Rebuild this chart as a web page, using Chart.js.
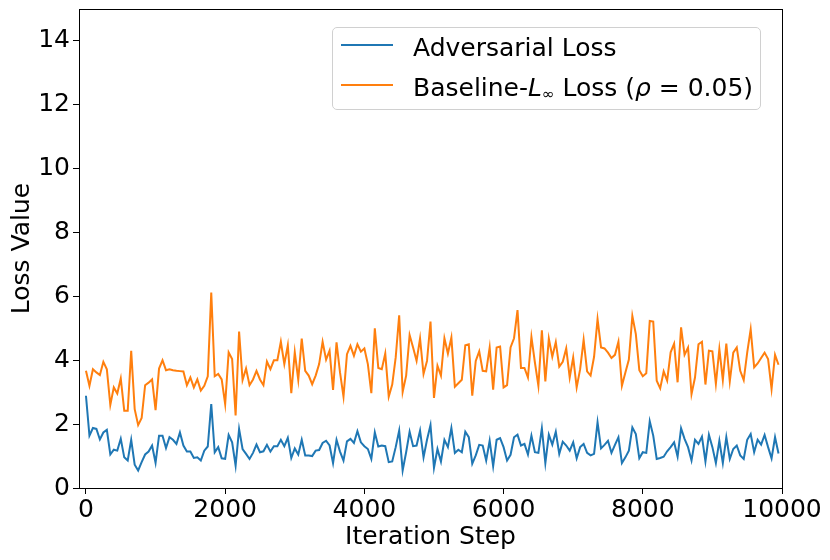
<!DOCTYPE html>
<html>
<head>
<meta charset="utf-8">
<script src="https://cdn.jsdelivr.net/npm/chart.js@4.4.1/dist/chart.umd.min.js"></script>
<style>
  html, body { margin: 0; padding: 0; background: #fff; }
  #wrap { position: relative; width: 830px; height: 560px; font-family: "DejaVu Sans", sans-serif; }
  #legend {
    position: absolute; left: 332px; top: 27px; width: 427px; height: 81px;
    border: 1px solid #d0d0d0; border-radius: 5px; background: rgba(255,255,255,0.8);
  }
  .row { position: absolute; left: 0; font-size: 25px; line-height: 30px; color: #000; white-space: nowrap; }
  .swatch { position: absolute; left: 8px; width: 52px; height: 2px; }
  .label { position: absolute; left: 80px; }
  .label sub { font-size: 15px; line-height: 0; vertical-align: -3px; }
</style>
</head>
<body>
<div id="wrap">
  <canvas id="lossChart" width="830" height="560"></canvas>
  <div id="legend">
    <div class="swatch" style="top:16px;background:#1f77b4"></div>
    <div class="row label" style="top:5px">Adversarial Loss</div>
    <div class="swatch" style="top:56px;background:#ff7f0e"></div>
    <div class="row label" style="top:45px">Baseline-<i>L</i><sub>∞</sub> Loss (<i>ρ</i> = 0.05)</div>
  </div>
</div>
<script>
// Values, one point every 50 iterations (0 .. 9950)
const STEP = 50;

const adversarialLoss = [
  2.89,1.64,1.88,1.85,1.52,1.74,1.82,1.05,1.2,1.17, 1.54,0.96,0.86,1.51,0.73,0.55,0.81,1.05,1.14,1.33,
  0.79,1.64,1.64,1.25,1.59,1.51,1.38,1.74,1.33,1.14, 1.14,0.94,0.96,0.86,
  1.17,1.3,2.63,1.12,1.28,0.93,0.91,1.66,1.43,0.7, 1.85,1.22,1.07,0.91,1.1,1.36,1.12,1.15,1.35,1.14,
  1.31,1.31,1.51,1.31,1.57,0.94,1.24,1.05,1.51,1.02, 1.02,1.0,
  1.17,1.19,1.41,1.48,1.33,0.78,1.51,1.14,0.86,1.46, 1.54,1.41,1.78,1.43,1.31,1.22,0.91,1.74,1.3,1.33,
  1.31,0.81,0.83,1.28,1.8,0.55,1.12,1.76,1.31,1.33, 1.8,0.96,1.51,1.97,0.63,
  1.22,0.83,1.51,1.28,1.88,1.1,1.2,1.12,1.76,1.59, 0.76,1.02,1.35,1.33,0.86,1.48,0.68,1.51,1.56,1.28,
  0.86,1.04,1.59,1.67,1.33,1.38,1.05,1.64,1.12,1.1, 1.87,0.78,1.67,1.36,
  1.76,1.07,1.45,1.33,1.17,1.43,0.93,1.28,1.38,1.1, 1.02,1.07,2.06,1.24,1.35,1.48,1.1,1.35,1.59,0.78,
  0.96,1.17,1.9,1.69,0.93,1.12,1.1,2.09,1.64,0.91, 0.94,0.98,1.15,1.28,
  1.43,0.98,1.87,1.54,1.28,0.86,1.51,1.38,1.61,0.83, 1.67,1.28,0.78,1.48,0.78,1.59,0.91,1.22,1.33,1.02,
  0.91,1.51,1.69,1.12,1.51,1.36,1.66,1.28,0.93,1.59, 1.08
];

const baselineLoss = [
  3.67,3.2,3.72,3.62,3.54,3.95,3.72,2.6,3.15,2.96, 3.43,2.42,2.42,4.3,2.47,1.97,2.19,3.22,3.3,3.4,
  2.44,3.74,4.0,3.69,3.72,3.69,3.67,3.66,3.65,3.22, 3.46,3.15,3.4,3.05,
  3.2,3.5,6.12,3.5,3.57,3.4,2.63,4.25,4.04,2.27, 4.9,3.38,3.74,3.22,3.4,3.67,3.4,3.22,3.96,3.72,
  4.0,4.0,4.58,3.88,4.47,2.97,4.25,3.39,4.68,3.67, 3.52,3.25,
  3.52,3.88,4.58,4.02,4.3,3.07,4.56,3.62,2.86,4.19, 4.45,4.14,4.5,4.27,4.37,3.88,2.97,5.0,3.76,3.72,
  4.21,2.86,3.24,4.09,5.41,3.01,3.52,4.79,4.4,3.98, 4.68,3.57,3.98,5.21,2.82,
  3.83,3.52,4.69,4.21,4.71,3.17,3.28,3.39,4.47,4.5, 2.89,3.98,4.28,3.67,3.65,4.4,3.08,4.4,4.43,3.15,
  3.22,4.4,4.69,5.57,3.76,3.76,3.46,4.73,3.93,3.2, 4.94,3.34,4.68,4.11,
  4.57,3.8,3.95,4.37,3.46,4.09,3.15,3.72,4.64,3.65, 3.52,4.11,5.29,4.4,4.37,4.24,4.07,4.17,4.58,3.2,
  3.62,4.02,5.39,4.82,3.69,3.5,3.59,5.23,5.21,3.36, 3.12,3.65,3.36,4.25,
  4.52,3.31,5.03,4.17,4.4,2.94,3.46,4.5,4.58,3.24, 4.3,4.28,3.26,4.35,3.38,4.52,3.34,4.24,4.4,3.67,
  3.38,4.24,4.97,3.78,3.9,4.07,4.24,4.04,3.1,4.17, 3.86
];

const xTicks = [0, 2000, 4000, 6000, 8000, 10000];
const yTicks = [0, 2, 4, 6, 8, 10, 12, 14];

const toPoints = arr => arr.map((v, i) => ({ x: i * STEP, y: v }));
const font = { family: 'DejaVu Sans', size: 25 };

// top and right spines, matplotlib style
const frame = {
  id: 'frame',
  afterDraw(chart) {
    const { ctx, chartArea: a } = chart;
    ctx.save();
    ctx.strokeStyle = '#000';
    ctx.lineWidth = 1;
    ctx.strokeRect(a.left + 0.5, a.top + 0.5, a.right - a.left, a.bottom - a.top);
    ctx.restore();
  }
};

new Chart(document.getElementById('lossChart'), {
  type: 'line',
  data: {
    datasets: [
      { label: 'Adversarial Loss', data: toPoints(adversarialLoss), borderColor: '#1f77b4', borderWidth: 2, pointRadius: 0, tension: 0 },
      { label: 'Baseline-L∞ Loss (ρ = 0.05)', data: toPoints(baselineLoss), borderColor: '#ff7f0e', borderWidth: 2, pointRadius: 0, tension: 0 }
    ]
  },
  options: {
    responsive: false,
    animation: false,
    layout: { padding: { top: 9, right: 48, left: 0, bottom: 0 } },
    plugins: { legend: { display: false }, tooltip: { enabled: false } },
    scales: {
      x: {
        type: 'linear',
        min: -100,
        max: 10000,
        afterBuildTicks: s => { s.ticks = xTicks.map(v => ({ value: v })); },
        afterFit: s => { s.height = 72; s.paddingLeft = 0; s.paddingRight = 0; },
        ticks: { font, color: '#000', padding: 1, maxRotation: 0, autoSkip: false, callback: v => String(v) },
        grid: { drawOnChartArea: false, tickLength: 6, tickColor: '#000' },
        border: { display: true, color: '#000' },
        title: { display: true, text: 'Iteration Step', font, color: '#000', padding: { top: 0, bottom: 8 } }
      },
      y: {
        min: 0,
        max: 15,
        afterBuildTicks: s => { s.ticks = yTicks.map(v => ({ value: v })); },
        afterFit: s => { s.width = 79; s.paddingTop = 0; s.paddingBottom = 0; },
        ticks: { font, color: '#000', padding: 3, callback: v => String(v) },
        grid: { drawOnChartArea: false, tickLength: 6, tickColor: '#000' },
        border: { display: true, color: '#000' },
        title: { display: true, text: 'Loss Value', font, color: '#000', padding: { top: 7, bottom: 0 } }
      }
    }
  },
  plugins: [frame]
});
</script>
</body>
</html>
